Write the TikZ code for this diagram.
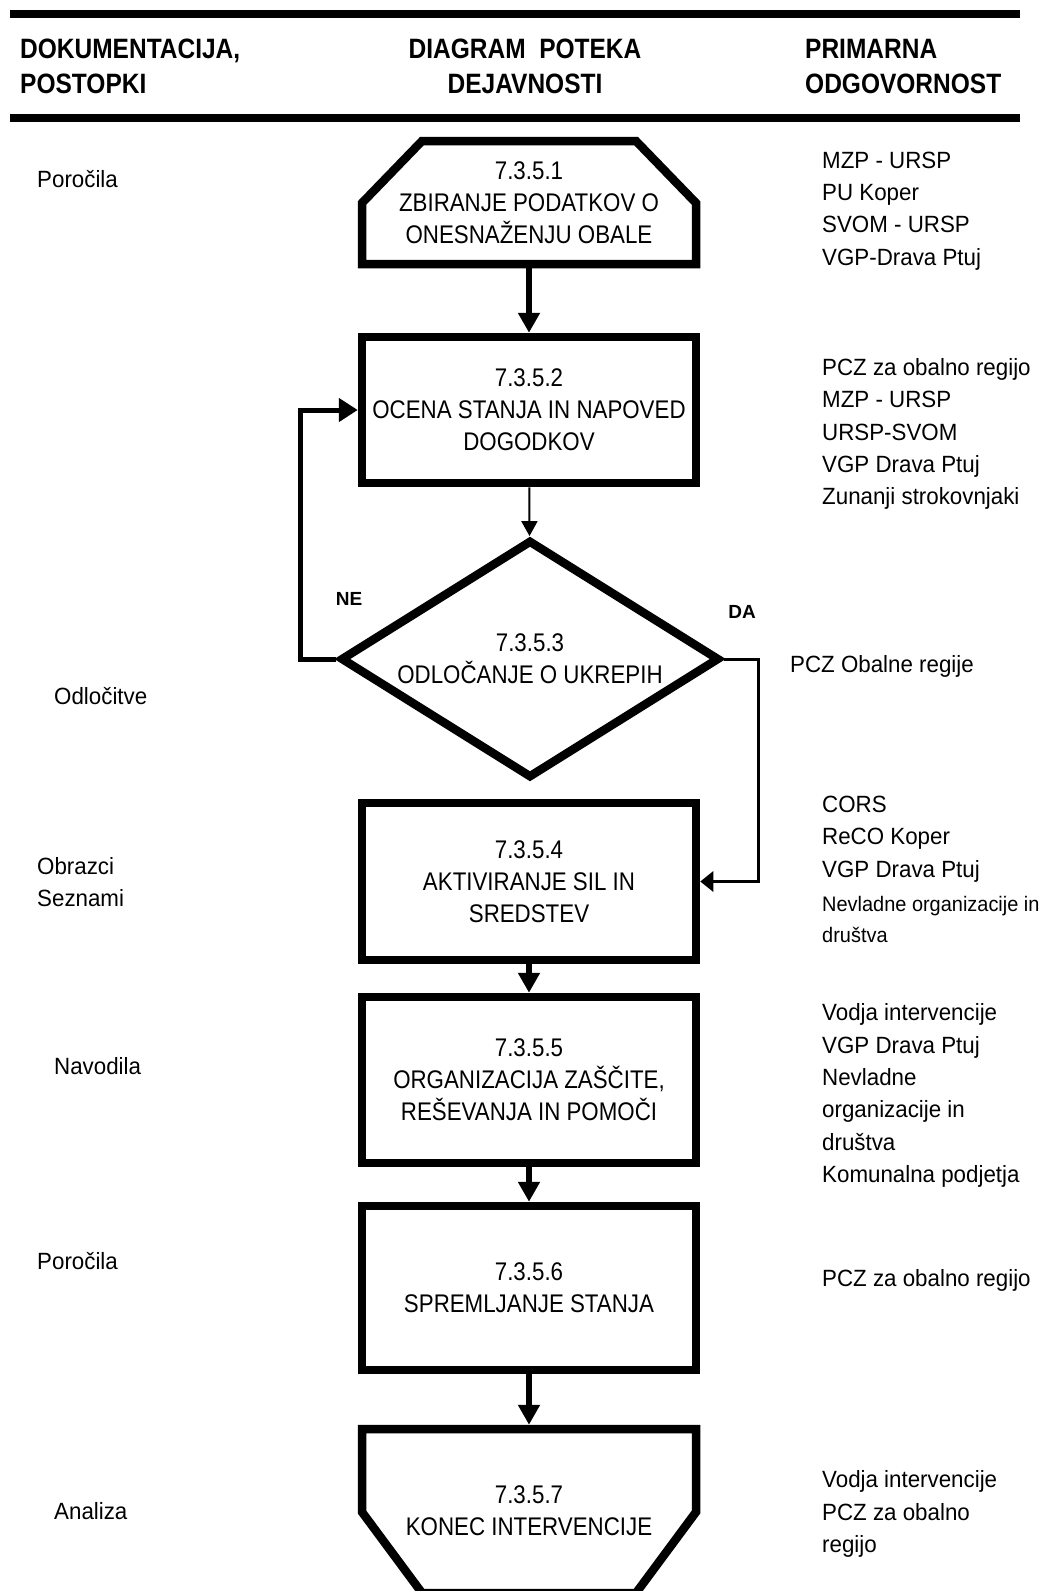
\documentclass[tikz,border=0pt]{standalone}
\usepackage{fontspec}
\setmainfont{Liberation Sans}
\newfontfamily\okvirfont[FakeStretch=0.875]{Liberation Sans}
\newfontfamily\stranfont[FakeStretch=0.95]{Liberation Sans}
\usetikzlibrary{arrows.meta,shapes.geometric}

\tikzset{
	okvir/.style={draw, line width=8.5pt, minimum width=334pt, inner sep=0pt, align=center,
		font=\okvirfont\fontsize{25.5}{32}\selectfont},
	oblika/.style={okvir, draw=none, outer sep=0pt},
	obris/.style={line width=8.5pt, line join=miter},
	odlocitev/.style={diamond, draw, line width=8.5pt, minimum width=379pt, minimum height=238pt,
		shape aspect=1.59, inner sep=0pt, align=center, font=\okvirfont\fontsize{25.5}{32}\selectfont},
	glava/.style={font=\okvirfont\bfseries\fontsize{28}{35}\selectfont, inner sep=0pt},
	opis/.style={font=\stranfont\fontsize{23.5}{32.3}\selectfont, inner sep=0pt, anchor=west, align=left},
	opismali/.style={opis, font=\stranfont\fontsize{21}{31}\selectfont},
	oznaka/.style={font=\bfseries\fontsize{19}{23}\selectfont, inner sep=0pt},
	crta/.style={line width=8pt},
	puscica/.style={line width=6pt, -{Triangle[length=20pt,width=21pt]}},
	tanka/.style={line width=2pt, -{Triangle[length=15pt,width=16pt]}},
	zanka/.style={line width=5pt, -{Triangle[length=19pt,width=23pt]}},
	dapot/.style={line width=3pt, -{Triangle[length=13pt,width=20pt]}}
}

\begin{document}
\begin{tikzpicture}[x=1pt,y=-1pt]
	\useasboundingbox[fill=white] (0,0) rectangle (1045,1591);
%					Glava tabele :
	\draw[crta] (10,14) -- (1020,14);
	\draw[crta] (10,118) -- (1020,118);
	\node[glava, anchor=west, align=left] (dokumentacija) at (20,66.5) {DOKUMENTACIJA,\\POSTOPKI};
	\node[glava, align=center] (diagram) at (525,66.5) {DIAGRAM\ \ POTEKA\\DEJAVNOSTI};
	\node[glava, anchor=west, align=left] (odgovornost) at (805,66.5) {PRIMARNA\\ODGOVORNOST};
%					Diagram poteka :
	\node[oblika, minimum height=123pt] (zbiranje) at (529,202.5) {7.3.5.1\\ZBIRANJE PODATKOV O\\ONESNAŽENJU OBALE};
	\draw[obris] ([xshift=60pt]zbiranje.north west) -- ([xshift=-60pt]zbiranje.north east)
		-- ([yshift=-62pt]zbiranje.north east) -- (zbiranje.south east) -- (zbiranje.south west)
		-- ([yshift=-62pt]zbiranje.north west) -- cycle;
	\node[okvir, minimum height=146pt] (ocena) at (529,410) {7.3.5.2\\OCENA STANJA IN NAPOVED\\DOGODKOV};
	\node[odlocitev] (odlocanje) at (530,659) {7.3.5.3\\ODLOČANJE O UKREPIH};
	\node[okvir, minimum height=157pt] (aktiviranje) at (529,881.5) {7.3.5.4\\AKTIVIRANJE SIL IN\\SREDSTEV};
	\node[okvir, minimum height=166pt] (organizacija) at (529,1080) {7.3.5.5\\ORGANIZACIJA ZAŠČITE,\\REŠEVANJA IN POMOČI};
	\node[okvir, minimum height=164pt] (spremljanje) at (529,1288) {7.3.5.6\\SPREMLJANJE STANJA};
	\node[oblika, minimum height=164pt] (konec) at (529,1511) {7.3.5.7\\KONEC INTERVENCIJE};
	\draw[obris] (konec.north west) -- (konec.north east) -- ([yshift=81pt]konec.south east)
		-- ([xshift=-60pt]konec.south east) -- ([xshift=60pt]konec.south west)
		-- ([yshift=81pt]konec.south west) -- cycle;
%					Povezave :
	\coordinate (nekot) at (300,659);
	\coordinate (dakot) at (758,659);
	\draw[puscica] (zbiranje) -- (ocena);
	\draw[tanka] (ocena) -- (odlocanje);
	\draw[zanka] (odlocanje.west) -- (nekot) |- (ocena.west);
	\draw[dapot] (odlocanje.east) -- (dakot) |- (aktiviranje.east);
	\draw[puscica] (aktiviranje) -- (organizacija);
	\draw[puscica] (organizacija) -- (spremljanje);
	\draw[puscica] (spremljanje) -- ([yshift=4.25pt]konec.north);
	\node[oznaka] (oznakane) at (349,599) {NE};
	\node[oznaka] (oznakada) at (742,612) {DA};
%					Dokumentacija :
	\node[opis] (porocila) at (37,179) {Poročila};
	\node[opis] (odlocitve) at (54,696) {Odločitve};
	\node[opis] (obrazci) at (37,882) {Obrazci\\Seznami};
	\node[opis] (navodila) at (54,1066) {Navodila};
	\node[opis] (porocilab) at (37,1261) {Poročila};
	\node[opis] (analiza) at (54,1511) {Analiza};
%					Odgovornost :
	\node[opis] (odgovorni1) at (822,211) {MZP - URSP\\PU Koper\\SVOM - URSP\\VGP-Drava Ptuj};
	\node[opis] (odgovorni2) at (822,434) {PCZ za obalno regijo\\MZP - URSP\\URSP-SVOM\\VGP Drava Ptuj\\Zunanji strokovnjaki};
	\node[opis] (odgovorni3) at (790,666) {PCZ Obalne regije};
	\node[opis] (odgovorni4) at (822,839) {CORS\\ReCO Koper\\VGP Drava Ptuj};
	\node[opismali] (odgovorni4b) at (822,919) {Nevladne organizacije in\\društva};
	\node[opis] (odgovorni5) at (822,1095.5) {Vodja intervencije\\VGP Drava Ptuj\\Nevladne\\organizacije in\\društva\\Komunalna podjetja};
	\node[opis] (odgovorni6) at (822,1280) {PCZ za obalno regijo};
	\node[opis] (odgovorni7) at (822,1514) {Vodja intervencije\\PCZ za obalno\\regijo};
\end{tikzpicture}
\end{document}
